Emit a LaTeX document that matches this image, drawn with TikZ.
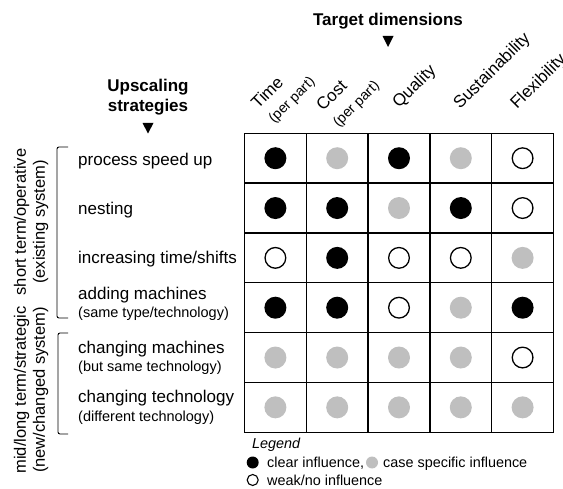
\documentclass[tikz,border=0pt]{standalone}
\usepackage{fontspec}
\setmainfont{Liberation Sans}
\definecolor{lgray}{HTML}{BFBFBF}
\begin{document}
\begin{tikzpicture}[x=1pt,y=-1pt,
  lbl/.style={font=\fontsize{17}{20}\selectfont, anchor=base west, inner sep=0pt},
  sublbl/.style={font=\fontsize{14.5}{17}\selectfont, anchor=base west, inner sep=0pt},
  hdr/.style={font=\fontsize{17}{20}\selectfont, rotate=45, anchor=base west, inner sep=0pt},
  hdrsub/.style={font=\fontsize{14.2}{16}\selectfont, rotate=45, anchor=base west, inner sep=0pt},
  ttl/.style={font=\bfseries\fontsize{17}{20}\selectfont, align=center, inner sep=0pt},
  side/.style={font=\fontsize{16.5}{19}\selectfont, rotate=90, align=center, inner sep=0pt},
  leg/.style={font=\fontsize{14.4}{17}\selectfont, anchor=base west, inner sep=0pt},
  dotB/.style={circle, fill=black, minimum size=22pt, inner sep=0pt},
  dotG/.style={circle, fill=lgray, minimum size=22pt, inner sep=0pt},
  dotW/.style={circle, draw=black, line width=1.3pt, fill=white, minimum size=20.7pt, inner sep=0pt},
  ldotB/.style={circle, fill=black, minimum size=12pt, inner sep=0pt},
  ldotG/.style={circle, fill=lgray, minimum size=12pt, inner sep=0pt},
  ldotW/.style={circle, draw=black, line width=1.1pt, fill=white, minimum size=11pt, inner sep=0pt},
  gridline/.style={line width=1.3pt, line cap=rect},
  brk/.style={line width=0.9pt, rounded corners=2pt},
  tri/.style={fill=black}
]
\useasboundingbox (0,0) rectangle (563,489);

% titles
\node[ttl] (tdim) at (388,21) {Target dimensions};
\fill[tri] (382.5,36) -- (393.5,36) -- (388,47) -- cycle;
\node[ttl] (upsc) at (148,97) {Upscaling\\strategies};
\fill[tri] (142.5,123) -- (153.5,123) -- (148,133.5) -- cycle;

% column headers
\node[hdr] (h1) at (258,110) {Time};
\node[hdrsub] (h1s) at (274,124) {(per part)};
\node[hdr] (h2) at (323,112) {Cost};
\node[hdrsub] (h2s) at (338.5,128) {(per part)};
\node[hdr] (h3) at (399,109) {Quality};
\node[hdr] (h4) at (460,110) {Sustainability};
\node[hdr] (h5) at (517,110) {Flexibility};

% grid
\foreach \i in {0,...,5} {
  \draw[gridline] ({244.5+61.8*\i},133.3) -- ({244.5+61.8*\i},432.3);
}
\foreach \j in {0,...,6} {
  \draw[gridline] (244.5,{133.3+49.83*\j}) -- (553.5,{133.3+49.83*\j});
}

% dots
\foreach \r/\row in {1/{B,G,B,G,W},2/{B,B,G,B,W},3/{W,B,W,W,G},4/{B,B,W,G,B},5/{G,G,G,G,W},6/{G,G,G,G,G}} {
  \foreach \t [count=\c] in \row {
    \node[dot\t] (d\r\c) at ({244.5+61.8*(\c-0.5)},{133.3+49.83*(\r-0.5)}) {};
  }
}

% row labels
\node[lbl] (r1) at (78,166) {process speed up};
\node[lbl] (r2) at (78,214.5) {nesting};
\node[lbl] (r3) at (78,263.5) {increasing time/shifts};
\node[lbl] (r4) at (78,299.5) {adding machines};
\node[sublbl] (r4s) at (78,318) {(same type/technology)};
\node[lbl] (r5) at (78,353.5) {changing machines};
\node[sublbl] (r5s) at (78,372) {(but same technology)};
\node[lbl] (r6) at (78,402.5) {changing technology};
\node[sublbl] (r6s) at (78,421) {(different technology)};

% brackets
\coordinate (b1a) at (68,147);
\coordinate (b1b) at (68,318);
\coordinate (b2a) at (68,333);
\coordinate (b2b) at (68,434);
\draw[brk] (b1a) -- (57,147) -- (57,318) -- (b1b);
\draw[brk] (b2a) -- (58,333) -- (58,434) -- (b2b);

% side labels
\node[side] (s1) at (31,222) {short term/operative\\(existing system)};
\node[side] (s2) at (31,390) {mid/long term/strategic\\(new/changed system)};

% legend
\node[leg, font=\itshape\fontsize{14.4}{17}\selectfont] (legt) at (252,449) {Legend};
\node[ldotB] (l1) at (252.7,462.5) {};
\node[leg] (l1t) at (267,467.5) {clear influence,};
\node[ldotG] (l2) at (372,462.5) {};
\node[leg] (l2t) at (383,467.5) {case specific influence};
\node[ldotW] (l3) at (252.7,480) {};
\node[leg] (l3t) at (267,485) {weak/no influence};
\end{tikzpicture}
\end{document}
